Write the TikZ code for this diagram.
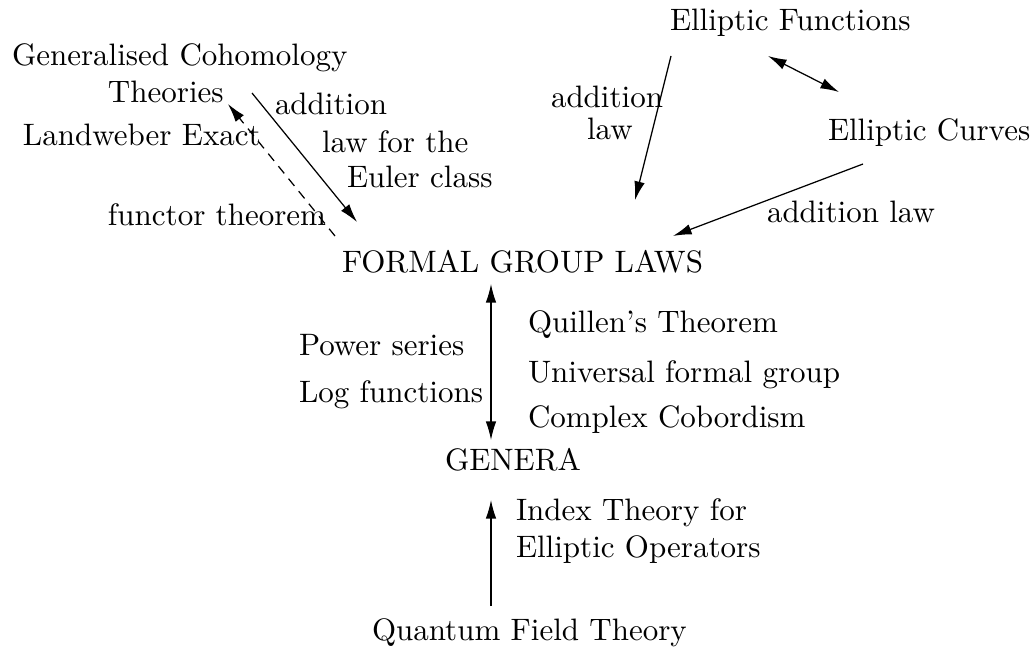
\documentclass[tikz,border=0pt]{standalone}
\usetikzlibrary{arrows.meta}
\begin{document}
\begin{tikzpicture}[x=0.3226pt,y=-0.3226pt,
  lbl/.style={inner sep=0pt,outer sep=0pt,anchor=base west,font=\normalsize},
  tip/.tip={Latex[length=6pt,width=3.4pt]},
  arr/.style={line width=0.4pt,-tip},
  darr/.style={line width=0.4pt,tip-tip},
  dsh/.style={arr,dash pattern=on 3pt off 2.2pt}]
\useasboundingbox (0,0) rectangle (1036,652);
% texts
\node[lbl] (ef) at (670,31) {Elliptic Functions};
\node[lbl] (gc) at (12,66) {Generalised Cohomology};
\node[lbl] (th) at (108,103) {Theories};
\node[lbl] (a1) at (275,114) {addition};
\node[lbl] (a2) at (322,152) {law for the};
\node[lbl] (a3) at (347,188) {Euler class};
\node[lbl] (lw1) at (23,146) {Landweber Exact};
\node[lbl] (lw2) at (108,225) {functor theorem};
\node[lbl] (b1) at (551,107) {addition};
\node[lbl] (b2) at (587,139) {law};
\node[lbl] (ec) at (828,140) {Elliptic Curves};
\node[lbl] (c1) at (767,223) {addition law};
\node[lbl] (fgl) at (342,272) {FORMAL GROUP LAWS};
\node[lbl] (q1) at (528,333) {Quillen's Theorem};
\node[lbl] (p1) at (299,356) {Power series};
\node[lbl] (q2) at (528,382) {Universal formal group};
\node[lbl] (p2) at (299,402) {Log functions};
\node[lbl] (q3) at (528,428) {Complex Cobordism};
\node[lbl] (gen) at (445,470) {GENERA};
\node[lbl] (i1) at (516,520) {Index Theory for};
\node[lbl] (i2) at (516,557) {Elliptic Operators};
\node[lbl] (qft) at (372,640) {Quantum Field Theory};
% arrow end points
\coordinate (fglT) at (491,284);
\coordinate (genT) at (491,440);
\coordinate (genB) at (491,500);
\coordinate (qftT) at (491,606);
\coordinate (efA) at (671,56);
\coordinate (fglA) at (635,200);
\coordinate (ecA) at (863,164);
\coordinate (fglB) at (673,236);
\coordinate (efB) at (768,56);
\coordinate (ecB) at (839,92);
\coordinate (thA) at (252,93);
\coordinate (fglC) at (357,222);
\coordinate (fglD) at (335,236);
\coordinate (thB) at (228,104);
% connectors
\draw[darr] (fglT) -- (genT);
\draw[arr] (qftT) -- (genB);
\draw[arr] (efA) -- (fglA);
\draw[arr] (ecA) -- (fglB);
\draw[darr] (efB) -- (ecB);
\draw[arr] (thA) -- (fglC);
\draw[dsh] (fglD) -- (thB);
\end{tikzpicture}
\end{document}
